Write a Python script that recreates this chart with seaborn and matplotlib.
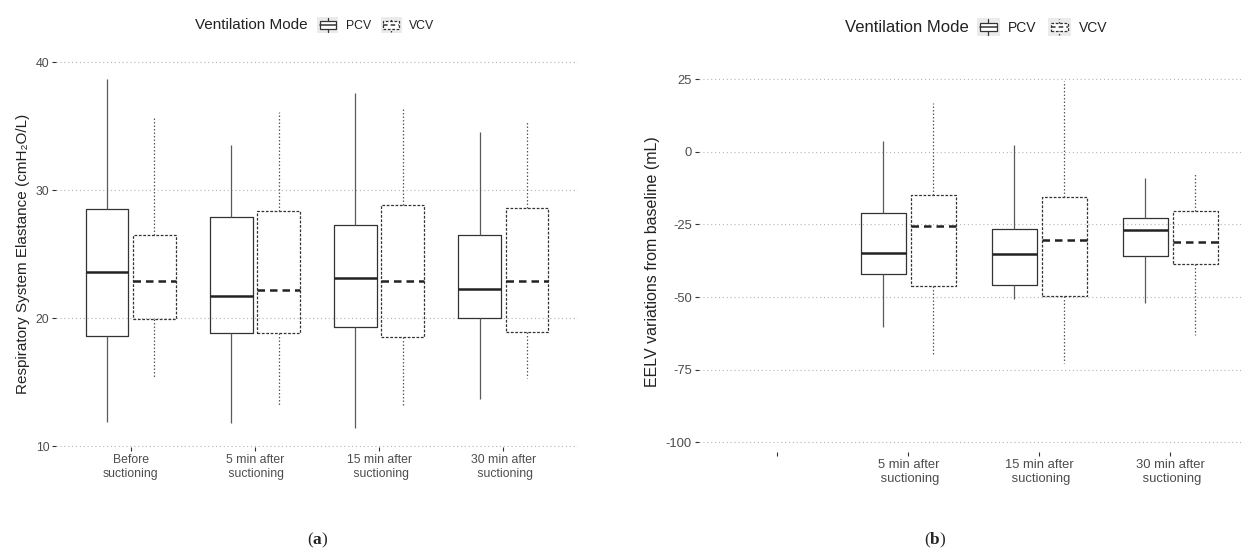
import numpy as np
import pandas as pd
import matplotlib
matplotlib.use("Agg")
import matplotlib.pyplot as plt
import seaborn as sns
from matplotlib.patches import Rectangle, Patch
from matplotlib.lines import Line2D
from matplotlib.legend_handler import HandlerBase

# panel (a): respiratory system elastance, five-number summaries
times_a = ["Before\nsuctioning", "5 min after\n suctioning", "15 min after\n suctioning", "30 min after\n suctioning"]
a_pcv_lo = [11.9, 11.8, 11.4, 13.7]
a_pcv_q1 = [18.6, 18.8, 19.3, 20.0]
a_pcv_med = [23.6, 21.7, 23.1, 22.3]
a_pcv_q3 = [28.5, 27.9, 27.3, 26.5]
a_pcv_hi = [38.7, 33.5, 37.6, 34.5]
a_vcv_lo = [15.3, 13.2, 13.2, 15.3]
a_vcv_q1 = [19.9, 18.8, 18.5, 18.9]
a_vcv_med = [22.9, 22.2, 22.9, 22.9]
a_vcv_q3 = [26.5, 28.4, 28.8, 28.6]
a_vcv_hi = [35.6, 36.1, 36.3, 35.4]

# panel (b): EELV variations from baseline, first category is empty
times_b = ["", "5 min after\n suctioning", "15 min after\n suctioning", "30 min after\n suctioning"]
b_pcv_lo = [-60.2, -50.8, -51.9]
b_pcv_q1 = [-42.2, -45.7, -35.9]
b_pcv_med = [-35.0, -35.2, -27.0]
b_pcv_q3 = [-21.0, -26.4, -22.9]
b_pcv_hi = [3.8, 2.3, -8.9]
b_vcv_lo = [-70.3, -72.9, -63.2]
b_vcv_q1 = [-46.1, -49.7, -38.7]
b_vcv_med = [-25.6, -30.2, -31.2]
b_vcv_q3 = [-14.9, -15.7, -20.3]
b_vcv_hi = [16.7, 24.5, -7.5]


def long_table(times, pcv, vcv):
    rows = []
    for mode, stats in [("PCV", pcv), ("VCV", vcv)]:
        for i, t in enumerate(times):
            for s in stats:
                rows.append({"time": t, "mode": mode, "value": s[i]})
    return pd.DataFrame(rows)


df_a = long_table(times_a,
                  [a_pcv_lo, a_pcv_q1, a_pcv_med, a_pcv_q3, a_pcv_hi],
                  [a_vcv_lo, a_vcv_q1, a_vcv_med, a_vcv_q3, a_vcv_hi])
df_b = long_table(times_b[1:],
                  [b_pcv_lo, b_pcv_q1, b_pcv_med, b_pcv_q3, b_pcv_hi],
                  [b_vcv_lo, b_vcv_q1, b_vcv_med, b_vcv_q3, b_vcv_hi])

sns.set_style("white")
plt.rcParams["font.family"] = ["Liberation Sans", "DejaVu Sans"]
plt.rcParams["axes.unicode_minus"] = False
plt.rcParams["mathtext.fontset"] = "custom"
plt.rcParams["mathtext.rm"] = "Liberation Serif"
plt.rcParams["mathtext.bf"] = "Liberation Serif:bold"

EDGE = "#333333"
WHISK = "#5a5a5a"
BOX_DASH = (0, (2.2, 1.3))
WHISK_DOT = (0, (1.2, 1.6))
MED_DASH = (0, (3, 2))


def draw(ax, df, order):
    common = dict(x="time", y="value", hue="mode", hue_order=["PCV", "VCV"], order=order,
                  dodge=True, width=0.76, gap=0.1, fill=False, whis=(0, 100),
                  showcaps=False, showfliers=False, legend=False, linewidth=0.9,
                  palette={"PCV": EDGE, "VCV": EDGE}, ax=ax)
    sns.boxplot(data=df[df["mode"] == "PCV"],
                whiskerprops=dict(color=WHISK),
                medianprops=dict(linewidth=1.8, color="#222222"), **common)
    sns.boxplot(data=df[df["mode"] == "VCV"],
                boxprops=dict(linestyle=BOX_DASH),
                whiskerprops=dict(color=WHISK, linestyle=WHISK_DOT),
                medianprops=dict(linewidth=1.8, color="#222222", linestyle=MED_DASH), **common)


def style(ax, ticksize):
    sns.despine(ax=ax, left=True, bottom=True)
    ax.yaxis.grid(True, linestyle=(0, (1, 2.5)), color="#b5b5b5", linewidth=0.8)
    ax.xaxis.grid(False)
    ax.set_axisbelow(True)
    ax.tick_params(axis="both", bottom=True, left=True, length=3, width=0.8, color="#333333",
                   labelcolor="#4d4d4d", labelsize=ticksize, pad=2)
    ax.set_xlabel("")


class BoxKey(HandlerBase):
    def __init__(self, dashed):
        super().__init__()
        self.dashed = dashed

    def create_artists(self, legend, orig_handle, xdescent, ydescent, width, height, fontsize, trans):
        x0, y0 = -xdescent, -ydescent
        bg = Rectangle((x0, y0), width, height, facecolor="#ebebeb", edgecolor="none", transform=trans)
        bls = BOX_DASH if self.dashed else "-"
        wls = WHISK_DOT if self.dashed else "-"
        bx = Rectangle((x0 + width * 0.12, y0 + height * 0.27), width * 0.76, height * 0.46,
                       facecolor="white", edgecolor=EDGE, linewidth=0.9, linestyle=bls, transform=trans)
        cx = x0 + width / 2
        med = Line2D([x0 + width * 0.12, x0 + width * 0.88], [y0 + height / 2] * 2, color=EDGE,
                     linewidth=1.1, linestyle=MED_DASH if self.dashed else "-", transform=trans)
        w1 = Line2D([cx, cx], [y0 + height * 0.08, y0 + height * 0.27], color=EDGE,
                    linewidth=0.9, linestyle=wls, transform=trans)
        w2 = Line2D([cx, cx], [y0 + height * 0.73, y0 + height * 0.92], color=EDGE,
                    linewidth=0.9, linestyle=wls, transform=trans)
        return [bg, bx, med, w1, w2]


def add_legend(fig, xtitle, xkeys, y, tsize, lsize, keysize):
    fig.text(xtitle, y, "Ventilation Mode", fontsize=tsize, color="#222222", ha="left", va="center")
    h1 = Patch(label="PCV")
    h2 = Patch(label="VCV")
    fig.legend(handles=[h1, h2], handler_map={h1: BoxKey(False), h2: BoxKey(True)},
               loc="center left", bbox_to_anchor=(xkeys, y), ncol=2, frameon=False,
               fontsize=lsize, handlelength=keysize, handleheight=keysize, handletextpad=0.6,
               columnspacing=0.8, borderpad=0, borderaxespad=0, labelcolor="#222222")


W, H = 1244, 558
fig = plt.figure(figsize=(W / 100, H / 100), dpi=100)

# panel (a)
ax_a = fig.add_axes([56.2 / W, 1 - 447.3 / H, (577.8 - 56.2) / W, (447.3 - 60.1) / H])
draw(ax_a, df_a, times_a)
style(ax_a, 8.8)
ax_a.set_xlim(-0.6, 3.6)
ax_a.set_ylim(9.9, 40.15)
ax_a.set_yticks([10, 20, 30, 40])
ax_a.set_ylabel("Respiratory System Elastance (cmH\u2082O/L)", fontsize=11, color="#222222", labelpad=4)

# panel (b)
ax_b = fig.add_axes([698.7 / W, 1 - 452 / H, (1244 - 698.7) / W, (452 - 70.6) / H])
draw(ax_b, df_b, times_b)
style(ax_b, 9.4)
ax_b.set_xlim(-0.6, 3.563)
ax_b.set_ylim(-103.4, 28)
ax_b.set_yticks([25, 0, -25, -50, -75, -100])
ax_b.set_ylabel("EELV variations from baseline (mL)", fontsize=11.5, color="#222222", labelpad=4)

add_legend(fig, 195 / W, 317 / W, 1 - 25 / H, 11, 8.8, 1.75)
add_legend(fig, 845 / W, 977 / W, 1 - 27 / H, 12, 10, 1.65)

fig.text(318 / W, 1 - 540 / H, r"$\mathrm{(}\mathbf{a}\mathrm{)}$", fontsize=12.5, ha="center", va="center")
fig.text(935 / W, 1 - 540 / H, r"$\mathrm{(}\mathbf{b}\mathrm{)}$", fontsize=12.5, ha="center", va="center")

fig.savefig("out.png", dpi=100)
